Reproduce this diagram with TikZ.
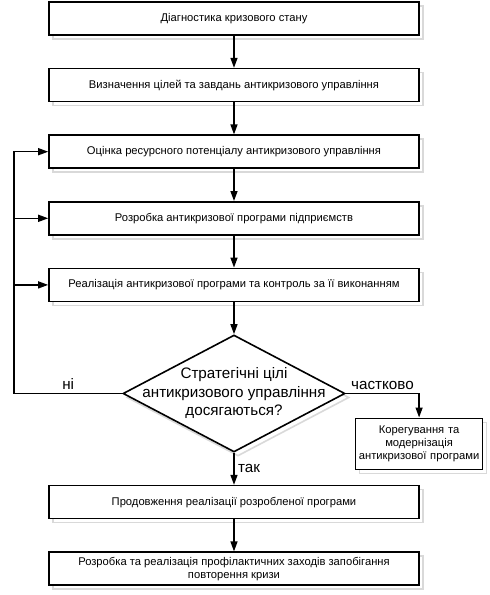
\documentclass[tikz,border=0pt]{standalone}
\usepackage{fontspec}
\setmainfont{Liberation Sans}
\usetikzlibrary{arrows.meta,positioning,shapes.geometric,shadows,calc}

\begin{document}
\begin{tikzpicture}[
  node distance=32pt,
  every node/.style={align=center},
  ghost/.style={drop shadow={shadow xshift=4pt,shadow yshift=-4pt,draw=black!15,fill=white,opacity=1}},
  box/.style={draw,line width=1.6pt,fill=white,ghost,font=\fontsize{11.2}{13}\selectfont,minimum width=370pt,minimum height=33pt,inner sep=2pt},
  smallbox/.style={box,minimum width=127pt,minimum height=51pt,text width=123pt},
  decision/.style={draw,diamond,line width=1.6pt,fill=white,ghost,minimum width=222pt,minimum height=117pt,inner sep=0pt},
  lbl/.style={font=\fontsize{15.2}{18.5}\selectfont},
  arr/.style={-{Triangle[length=10pt,width=7pt]},line width=1.4pt}]
\useasboundingbox (-234pt,18.5pt) rectangle (256pt,-576.5pt);
\node[box] (diag) {Діагностика кризового стану};
\node[box,below=of diag] (cili) {Визначення цілей та завдань антикризового управління};
\node[box,below=of cili] (ocinka) {Оцінка ресурсного потенціалу антикризового управління};
\node[box,below=of ocinka] (rozrobka) {Розробка антикризової програми підприємств};
\node[box,below=of rozrobka] (realiz) {Реалізація антикризової програми та контроль за її виконанням};
\node[decision,below=of realiz,label={[lbl,align=center]center:Стратегічні цілі\\антикризового управління\\досягаються?}] (q) {};
\node[box,below=of q] (prod) {Продовження реалізації розробленої програми};
\node[box,below=of prod] (profil) {Розробка та реалізація профілактичних заходів запобігання\\повторення кризи};
\node[smallbox,below right=24pt and 9pt of q.east] (korig) {Корегування та\\модернізація\\антикризової програми};
\coordinate (loop) at ($(q.west)+(-108pt,0)$);
\draw[arr] (diag)--(cili);
\draw[arr] (cili)--(ocinka);
\draw[arr] (ocinka)--(rozrobka);
\draw[arr] (rozrobka)--(realiz);
\draw[arr] (realiz)--(q);
\draw[arr] (q)--node[lbl,right]{так}(prod);
\draw[arr] (prod)--(profil);
\draw[arr] (q.west)--node[lbl,above]{ні}(loop)|-(ocinka.west);
\draw[arr] (loop|-rozrobka.west)--(rozrobka.west);
\draw[arr] (loop|-realiz.west)--(realiz.west);
\draw[arr] (q.east)--node[lbl,above]{частково}(q.east-|korig.north)--(korig.north);
\end{tikzpicture}
\end{document}
